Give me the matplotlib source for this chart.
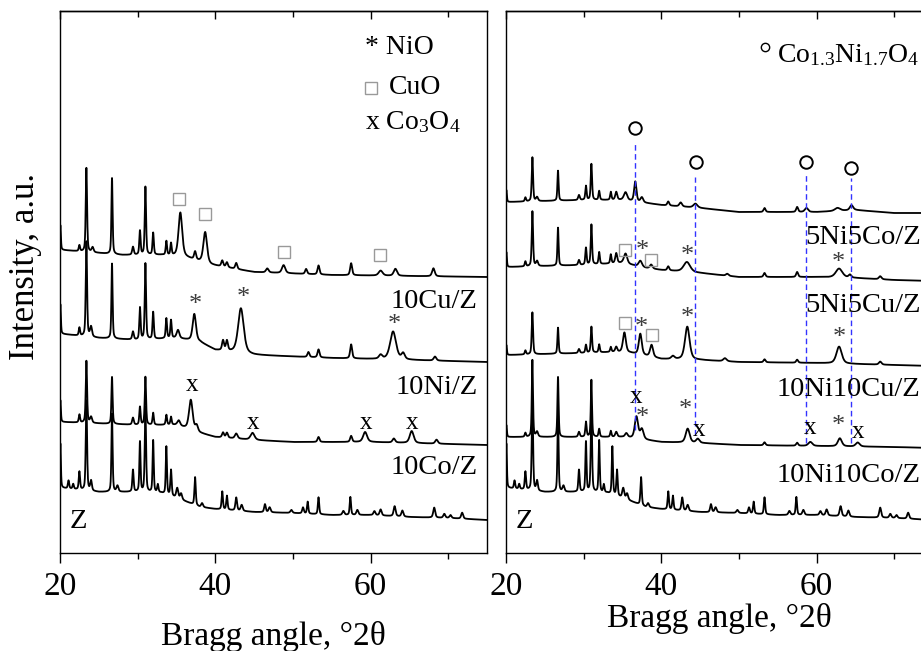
import numpy as np
import matplotlib
matplotlib.use("Agg")
import matplotlib.pyplot as plt

plt.rcParams['font.family'] = ['Liberation Serif', 'DejaVu Serif']
plt.rcParams['mathtext.fontset'] = 'custom'
plt.rcParams['mathtext.rm'] = 'Liberation Serif'
plt.rcParams['mathtext.it'] = 'Liberation Serif:italic'

# ---- data (2theta in degrees, intensity in a.u. incl. stacking offset) ----
# background anchors: (2theta, level)
bg_10cu = [(20.3, 303), (28, 298), (33, 298), (36, 296), (39.5, 288), (45, 281), (55, 278), (75, 276)]
bg_10ni = [(20.3, 219), (25, 215), (30, 213), (35, 215), (38, 211), (40, 203), (45, 198), (55, 195), (75, 191)]
bg_10co = [(20.3, 131), (30, 128), (35, 128), (38, 120), (40, 116), (45, 113), (50, 111), (60, 111), (70, 109), (75, 108)]
bg_z = [(20.3, 65), (25, 61), (30, 61), (33, 60), (35, 55), (38, 46), (40, 44), (45, 41), (50, 40),
        (55, 38), (60, 38), (65, 36), (70, 35), (75, 33)]
bg_5ni5co = [(20.3, 351), (30, 353), (35, 353), (38, 350), (40, 348), (45, 345), (50, 341), (60, 341),
             (65, 343), (70, 340), (75, 340)]
bg_5ni5cu = [(20.3, 286), (30, 288), (35, 290), (38, 285), (40, 283), (45, 280), (50, 276), (60, 276),
             (65, 275), (70, 273), (75, 272)]
bg_10ni10cu = [(20.3, 198), (30, 200), (34, 201), (36, 200), (40, 194), (45, 193), (50, 191), (60, 190),
               (70, 188), (75, 187)]
bg_10ni10co = [(20.3, 116), (30, 116), (35, 116), (40, 111), (45, 110), (50, 108), (60, 107), (70, 106), (75, 105)]

# peaks: (position, height, fwhm)
pk_10cu = [(20.05, 25, 0.15), (22.5, 6, 0.2), (23.4, 84, 0.2), (24.2, 5, 0.3), (26.7, 76, 0.18),
           (29.4, 8, 0.25), (30.3, 24, 0.2), (31.0, 68, 0.2), (32.0, 22, 0.2), (33.7, 14, 0.2),
           (34.3, 12, 0.2), (35.5, 44, 0.55), (37.4, 8, 0.3), (38.7, 31, 0.55), (40.9, 6, 0.3),
           (41.5, 5, 0.3), (42.7, 6, 0.3), (46.7, 4, 0.4), (48.8, 8, 0.5), (51.7, 5, 0.3),
           (53.3, 9, 0.3), (57.5, 12, 0.3), (61.3, 5, 0.6), (63.2, 7, 0.5), (68.1, 8, 0.4)]
pk_10ni = [(20.05, 30, 0.15), (22.5, 8, 0.2), (23.4, 95, 0.2), (24.0, 10, 0.3), (26.7, 75, 0.18),
           (29.4, 8, 0.25), (30.3, 32, 0.2), (31.0, 76, 0.2), (32.0, 27, 0.2), (33.7, 20, 0.2),
           (34.3, 18, 0.2), (35.2, 8, 0.4), (37.3, 27, 0.5), (41.0, 10, 0.3), (41.5, 10, 0.3),
           (43.3, 45, 0.85), (52.0, 5, 0.3), (53.3, 8, 0.3), (57.5, 14, 0.3), (61.3, 4, 0.5),
           (62.9, 28, 0.9), (64.2, 6, 0.5), (68.3, 4, 0.4)]
pk_10co = [(20.05, 22, 0.15), (22.5, 8, 0.2), (23.4, 62, 0.2), (24.0, 6, 0.3), (26.7, 47, 0.18),
           (29.4, 7, 0.25), (30.3, 18, 0.2), (31.0, 48, 0.2), (32.0, 12, 0.2), (33.7, 10, 0.2),
           (34.3, 8, 0.2), (35.3, 5, 0.4), (36.85, 30, 0.55), (37.6, 6, 0.4), (41.0, 5, 0.3),
           (41.5, 5, 0.3), (42.7, 5, 0.4), (44.8, 7, 0.6), (53.3, 5, 0.3), (57.5, 6, 0.3),
           (59.3, 10, 0.6), (63.0, 4, 0.4), (65.3, 12, 0.6), (68.5, 4, 0.4)]
pk_z = [(20.05, 45, 0.15), (21.1, 8, 0.2), (21.7, 5, 0.2), (22.5, 18, 0.2), (23.4, 90, 0.2),
        (24.0, 10, 0.25), (26.7, 78, 0.18), (27.4, 6, 0.3), (29.4, 22, 0.2), (30.3, 50, 0.18),
        (31.0, 85, 0.2), (32.0, 52, 0.18), (32.6, 8, 0.2), (33.7, 48, 0.18), (34.3, 26, 0.2),
        (35.1, 10, 0.3), (35.6, 6, 0.3), (37.4, 28, 0.2), (38.3, 4, 0.3), (40.9, 18, 0.2),
        (41.5, 14, 0.2), (42.7, 13, 0.25), (43.4, 6, 0.3), (46.4, 8, 0.25), (47.0, 5, 0.3),
        (49.8, 3, 0.3), (51.3, 6, 0.25), (51.9, 12, 0.2), (53.3, 17, 0.2), (56.5, 4, 0.3),
        (57.4, 18, 0.2), (58.3, 5, 0.3), (60.5, 4, 0.3), (61.3, 6, 0.3), (63.1, 10, 0.3),
        (64.1, 6, 0.3), (68.2, 10, 0.3), (69.5, 4, 0.3), (70.3, 3, 0.3), (71.8, 6, 0.3)]
pk_5ni5co = [(20.05, 12, 0.15), (22.5, 4, 0.2), (23.4, 44, 0.2), (24.0, 4, 0.3), (26.7, 30, 0.18),
             (29.4, 5, 0.25), (30.3, 14, 0.2), (31.0, 36, 0.2), (32.0, 9, 0.2), (33.5, 8, 0.2),
             (34.2, 8, 0.3), (35.4, 8, 0.5), (36.65, 20, 0.35), (37.5, 5, 0.4), (40.9, 4, 0.3),
             (42.5, 4, 0.4), (44.4, 4, 0.6), (53.3, 4, 0.3), (57.5, 5, 0.3), (58.7, 4, 0.5),
             (62.7, 3, 0.8), (64.5, 5, 0.5)]
pk_5ni5cu = [(20.05, 15, 0.15), (22.5, 5, 0.2), (23.4, 55, 0.2), (24.0, 5, 0.3), (26.7, 38, 0.18),
             (29.4, 5, 0.25), (30.3, 17, 0.2), (31.0, 40, 0.2), (32.0, 12, 0.2), (33.5, 9, 0.2),
             (34.2, 10, 0.3), (35.4, 10, 0.5), (37.3, 6, 0.5), (38.7, 4, 0.4), (40.9, 4, 0.3),
             (43.3, 10, 1.0), (48.5, 2, 0.4), (53.3, 4, 0.3), (57.5, 5, 0.3), (62.9, 9, 1.0),
             (64.3, 3, 0.4), (68.2, 3, 0.4)]
pk_10ni10cu = [(20.05, 10, 0.15), (22.5, 4, 0.2), (23.4, 42, 0.2), (26.7, 26, 0.18), (29.4, 4, 0.25),
               (30.3, 8, 0.2), (31.0, 26, 0.2), (32.0, 8, 0.2), (33.5, 5, 0.2), (34.2, 5, 0.3),
               (35.25, 20, 0.45), (37.3, 21, 0.45), (38.75, 12, 0.45), (41.5, 3, 0.5), (43.35, 33, 0.7),
               (48.2, 3, 0.5), (53.3, 3, 0.3), (57.5, 3, 0.3), (62.9, 17, 0.8), (68.2, 3, 0.4)]
pk_10ni10co = [(20.05, 12, 0.15), (22.5, 4, 0.2), (23.4, 77, 0.18), (24.0, 5, 0.3), (26.7, 60, 0.18),
               (29.4, 5, 0.25), (30.3, 15, 0.2), (31.0, 57, 0.18), (32.0, 8, 0.2), (33.5, 6, 0.2),
               (34.2, 5, 0.3), (35.5, 4, 0.4), (36.8, 22, 0.5), (37.5, 10, 0.5), (43.4, 14, 0.6),
               (44.7, 4, 0.5), (53.3, 3, 0.3), (57.5, 3, 0.3), (59.2, 4, 0.6), (63.0, 8, 0.6),
               (65.3, 4, 0.6)]

left_traces = [(bg_10cu, pk_10cu), (bg_10ni, pk_10ni), (bg_10co, pk_10co), (bg_z, pk_z)]
right_traces = [(bg_5ni5co, pk_5ni5co), (bg_5ni5cu, pk_5ni5cu), (bg_10ni10cu, pk_10ni10cu),
                (bg_10ni10co, pk_10ni10co), (bg_z, pk_z)]

left_labels = [("10Cu/Z", 251), ("10Ni/Z", 165), ("10Co/Z", 86)]
right_labels = [("5Ni5Co/Z", 316), ("5Ni5Cu/Z", 248), ("10Ni10Cu/Z", 163), ("10Ni10Co/Z", 78)]

# phase markers (2theta, level)
left_cuo = [(35.3, 354), (38.7, 339), (48.8, 301), (61.2, 298)]
left_nio = [(37.4, 251), (43.6, 258), (63.1, 231)]
left_co3o4 = [(37.0, 168), (44.8, 130), (59.4, 130), (65.3, 130)]

right_spinel = [(36.6, 425), (44.5, 391), (58.7, 391), (64.5, 385)]
right_guides = [(36.65, 411, 123), (44.4, 376, 118), (58.7, 378, 110), (64.5, 375, 110)]
right_cuo = [(35.3, 303), (38.7, 293), (35.3, 230), (38.8, 218)]
right_nio = [(37.5, 305), (43.3, 300), (62.8, 293), (37.4, 228), (43.3, 238), (62.9, 218),
             (37.6, 138), (43.1, 146), (62.8, 130)]
right_co3o4 = [(36.8, 156), (44.8, 123), (59.1, 125), (65.4, 121)]

tth = np.arange(20.0, 75.0, 0.02)


def pattern(bg, peaks):
    bx, by = zip(*bg)
    y = np.interp(tth, bx, by)
    for c, a, w in peaks:
        d = (tth - c) / w
        y = y + a * (0.5 * np.exp(-4 * np.log(2) * d ** 2) + 0.5 / (1 + 4 * d ** 2))
    return y


def setup_axis(ax, pad):
    ax.set_xlim(20, 75)
    ax.set_ylim(0, 542)
    ax.set_yticks([])
    ax.set_xticks([20, 40, 60])
    ax.set_xticks([30, 50, 70], minor=True)
    ax.tick_params(axis='x', which='major', direction='out', length=7, width=1, labelsize=24, pad=6)
    ax.tick_params(axis='x', which='minor', direction='out', length=4, width=1)
    for s in ax.spines.values():
        s.set_linewidth(1.0)
    top = ax.secondary_xaxis('top')
    top.set_xticks([20, 40, 60])
    top.set_xticks([30, 50, 70], minor=True)
    top.tick_params(which='major', direction='in', length=6, width=1, labeltop=False)
    top.tick_params(which='minor', direction='in', length=4, width=1)
    top.spines['top'].set_linewidth(1.0)
    ax.set_xlabel('Bragg angle, °2θ', fontsize=24, labelpad=pad)


def draw_markers(ax, cuo, nio, co3o4):
    for x, y in cuo:
        ax.plot(x, y, marker='s', ms=8, mfc='none', mec='#999999', mew=1.0)
    for x, y in nio:
        ax.text(x, y - 3, '*', fontsize=19, color='#3c3c3c', ha='center', va='center')
    for x, y in co3o4:
        ax.text(x, y, 'x', fontsize=18, color='black', ha='center', va='center')


fig = plt.figure(figsize=(9.21, 6.51), dpi=100)
axl = fig.add_axes([60 / 921, 98 / 651, 427 / 921, 542 / 651])
axr = fig.add_axes([506 / 921, 98 / 651, 427 / 921, 542 / 651])

for bg, pk in left_traces:
    axl.plot(tth, pattern(bg, pk), color='black', lw=1.3)
for bg, pk in right_traces:
    axr.plot(tth, pattern(bg, pk), color='black', lw=1.3)

setup_axis(axl, 14)
setup_axis(axr, 1)
axl.set_ylabel('Intensity, a.u.', fontsize=25)
axl.yaxis.set_label_coords(-0.043, 0.528)

for name, y in left_labels:
    axl.text(73.8, y, name, fontsize=20.5, ha='right', va='center')
for name, y in right_labels:
    axr.text(73.4, y, name, fontsize=20.5, ha='right', va='center')
for ax in (axl, axr):
    ax.text(21.3, 31, 'Z', fontsize=20.5, ha='left', va='center')

draw_markers(axl, left_cuo, left_nio, left_co3o4)
draw_markers(axr, right_cuo, right_nio, right_co3o4)

for x, y in right_spinel:
    axr.plot(x, y, marker='o', ms=9, mfc='none', mec='black', mew=1.4)
for x, y0, y1 in right_guides:
    axr.plot([x, x], [y1, y0], color='#3333ff', lw=1.0, ls=(0, (4, 2.5)))

# phase legends
axl.text(59.35, 505, '* NiO', fontsize=20, ha='left', va='center')
axl.plot(60.1, 465, marker='s', ms=9, mfc='none', mec='#999999', mew=1.0)
axl.text(62.3, 465, 'CuO', fontsize=20, ha='left', va='center')
axl.text(59.35, 431, r'x Co$_\mathregular{3}$O$_\mathregular{4}$', fontsize=20, ha='left', va='center')
axr.plot(53.3, 506, marker='o', ms=6, mfc='none', mec='black', mew=1.0)
axr.text(54.9, 498, r'Co$_\mathregular{1.3}$Ni$_\mathregular{1.7}$O$_\mathregular{4}$', fontsize=20,
         ha='left', va='center')

fig.savefig('out.png', dpi=100)
